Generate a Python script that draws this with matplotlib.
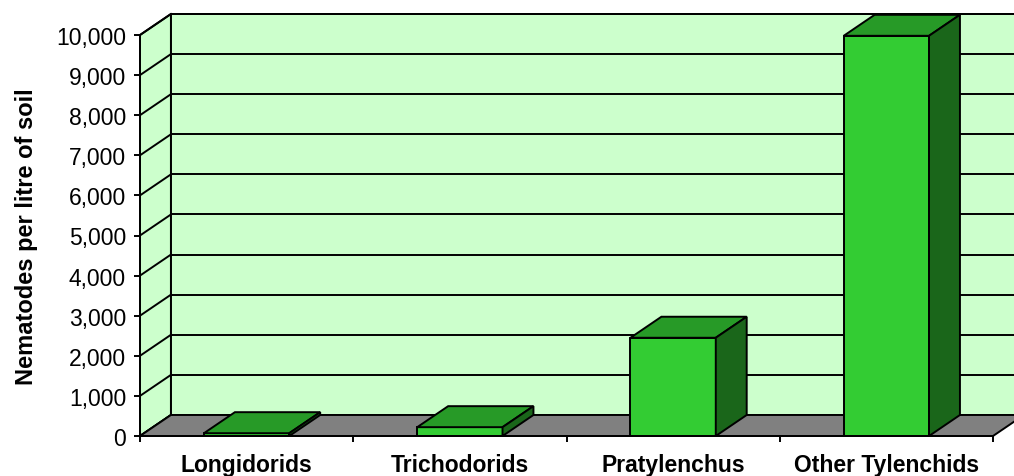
import matplotlib.pyplot as plt
from matplotlib.patches import Polygon

# Data
categories = ["Longidorids", "Trichodorids", "Pratylenchus", "Other Tylenchids"]
counts = [70, 220, 2450, 9980]
yticks = list(range(0, 10001, 1000))

plt.rcParams['font.family'] = ['Liberation Sans', 'DejaVu Sans']

# 3D look: depth offset in data units (category units, value units)
DX = 0.145
DY = 524
YMAX = 10000
NCAT = len(categories)
BAR_W = 0.40

wall = "#CCFFCC"
floor = "#808080"
front = "#33CC33"
top = "#279A27"
side = "#1A661A"
lw = 1.4

fig = plt.figure(figsize=(10.14, 4.77), dpi=100)
ax = fig.add_axes([140 / 1014, 40 / 477, 853 / 1014, 401 / 477])
ax.set_xlim(0, NCAT)
ax.set_ylim(0, YMAX)
ax.set_facecolor("none")


def poly(pts, fc, z):
    p = Polygon(pts, closed=True, facecolor=fc, edgecolor="black",
                linewidth=lw, zorder=z, clip_on=False, joinstyle="miter")
    ax.add_patch(p)


# walls
poly([(0, 0), (DX, DY), (DX, YMAX + DY), (0, YMAX)], wall, 1)
poly([(DX, DY), (NCAT + 1, DY), (NCAT + 1, YMAX + DY), (DX, YMAX + DY)], wall, 1)

# gridlines on back and side walls
for v in yticks:
    ax.plot([DX, NCAT + 1], [v + DY, v + DY], color="black", lw=lw,
            zorder=2, clip_on=False, solid_capstyle="butt")
    ax.plot([0, DX], [v, v + DY], color="black", lw=lw, zorder=2,
            clip_on=False)

# floor
poly([(0, 0), (NCAT, 0), (NCAT + DX, DY), (DX, DY)], floor, 3)

# bars
for i, v in enumerate(counts):
    x0 = i + 0.5 - BAR_W / 2
    x1 = i + 0.5 + BAR_W / 2
    poly([(x0, 0), (x1, 0), (x1, v), (x0, v)], front, 4)
    poly([(x0, v), (x1, v), (x1 + DX, v + DY), (x0 + DX, v + DY)], top, 4)
    poly([(x1, 0), (x1 + DX, DY), (x1 + DX, v + DY), (x1, v)], side, 4)

# axes
for s in ["top", "right"]:
    ax.spines[s].set_visible(False)
for s in ["left", "bottom"]:
    ax.spines[s].set_linewidth(lw)
    ax.spines[s].set_zorder(5)

ax.set_yticks(yticks)
ax.set_yticklabels([f"{v:,}" for v in yticks], fontsize=16.5)
ax.tick_params(axis="y", length=4, width=lw, pad=6)

ax.set_xticks(range(NCAT + 1))
ax.set_xticklabels([])
ax.tick_params(axis="x", which="major", length=4, width=lw)
ax.set_xticks([i + 0.5 for i in range(NCAT)], minor=True)
ax.set_xticklabels(categories, minor=True, fontsize=16.5, fontweight="bold")
ax.tick_params(axis="x", which="minor", length=0, pad=12)

ax.set_ylabel("Nematodes per litre of soil", fontsize=17, fontweight="bold",
              labelpad=13)

fig.savefig("out.png", dpi=100)
